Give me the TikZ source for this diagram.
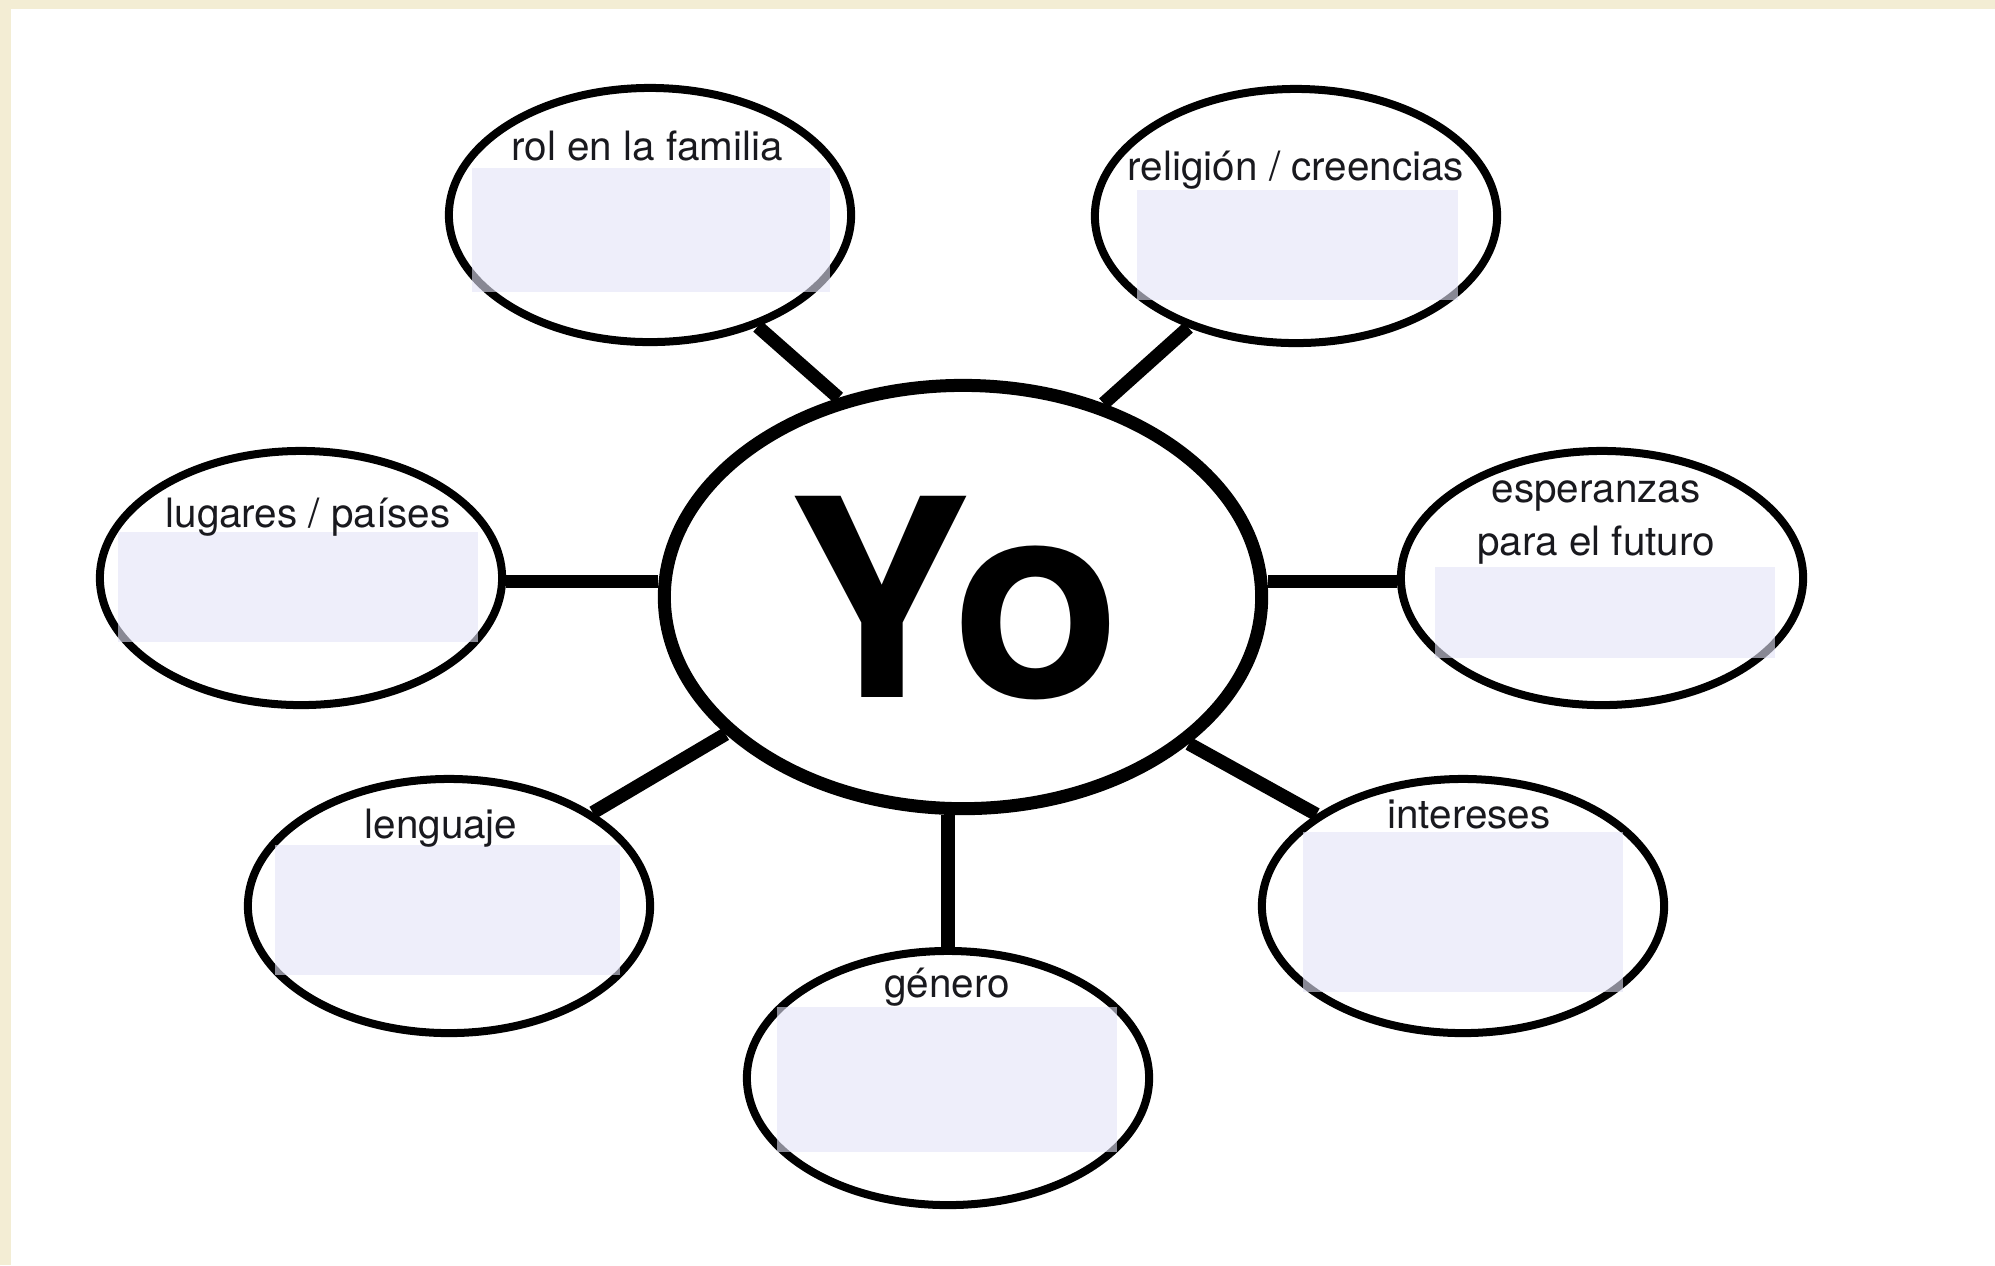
\documentclass[tikz,border=0pt]{standalone}
\usepackage{fontspec}
\setmainfont{TeX Gyre Heros}
\usetikzlibrary{shapes.geometric}
\definecolor{cream}{RGB}{243,237,212}
\definecolor{lav}{RGB}{227,227,247}
\definecolor{ink}{RGB}{25,25,30}
\begin{document}
\begin{tikzpicture}[x=0.01cm,y=-0.01cm,
  smallell/.style={ellipse, draw=black, line width=0.08cm, minimum width=4.02cm, minimum height=2.54cm, inner sep=0pt},
  bigell/.style={ellipse, draw=black, line width=0.13cm, minimum width=5.97cm, minimum height=4.23cm, inner sep=0pt},
  conn/.style={line width=0.135cm, draw=black},
  lbl/.style={anchor=base, text=ink, font=\fontsize{11.5pt}{13pt}\selectfont, inner sep=0pt},
  boxfill/.style={fill=lav, fill opacity=0.6}]
% background
\fill[cream] (0,0) rectangle (1995,1265);
\fill[white] (11,9) rectangle (1995,1265);
\path[use as bounding box] (0,0) rectangle (1995,1265);

% ellipses
\node[bigell] (yo) at (963,597) {};
\node[smallell] (rol) at (650,215) {};
\node[smallell] (rel) at (1296,216) {};
\node[smallell] (lug) at (301,578) {};
\node[smallell] (esp) at (1602,578) {};
\node[smallell] (len) at (449,906) {};
\node[smallell] (gen) at (948,1078) {};
\node[smallell] (int) at (1463,906) {};

% connectors
\draw[conn] (rol.-46) -- (yo.122);
\draw[conn] (rel.226) -- (yo.54);
\draw[conn] (lug.-1) -- (lug.-1 -| yo.west);
\draw[conn] (esp.181) -- (esp.181 -| yo.east);
\draw[conn] (len.33) -- (yo.210);
\draw[conn] (gen.north) -- (gen.north |- yo.south);
\draw[conn] (int.148) -- (yo.-33);

% answer boxes
\fill[boxfill] (472,168) rectangle (830,292);
\fill[boxfill] (1137,190) rectangle (1458,300);
\fill[boxfill] (118,532) rectangle (478,642);
\fill[boxfill] (1435,567) rectangle (1775,658);
\fill[boxfill] (275,845) rectangle (620,975);
\fill[boxfill] (777,1007) rectangle (1117,1152);
\fill[boxfill] (1303,832) rectangle (1623,992);

% labels
\node[anchor=base, inner sep=0pt, text=black, font=\bfseries\fontsize{78.5pt}{80pt}\selectfont] (yotext) at (954,697) {Yo};
\node[lbl] (trol) at (647,160) {rol en la familia};
\node[lbl] (trel) at (1296,180) {religión / creencias};
\node[lbl] (tlug) at (308,527) {lugares / países};
\node[lbl] (tesp1) at (1596,502) {esperanzas};
\node[lbl] (tesp2) at (1596,555) {para el futuro};
\node[lbl] (tlen) at (441,838) {lenguaje};
\node[lbl] (tgen) at (947,997) {género};
\node[lbl] (tint) at (1469,828) {intereses};
\end{tikzpicture}
\end{document}
